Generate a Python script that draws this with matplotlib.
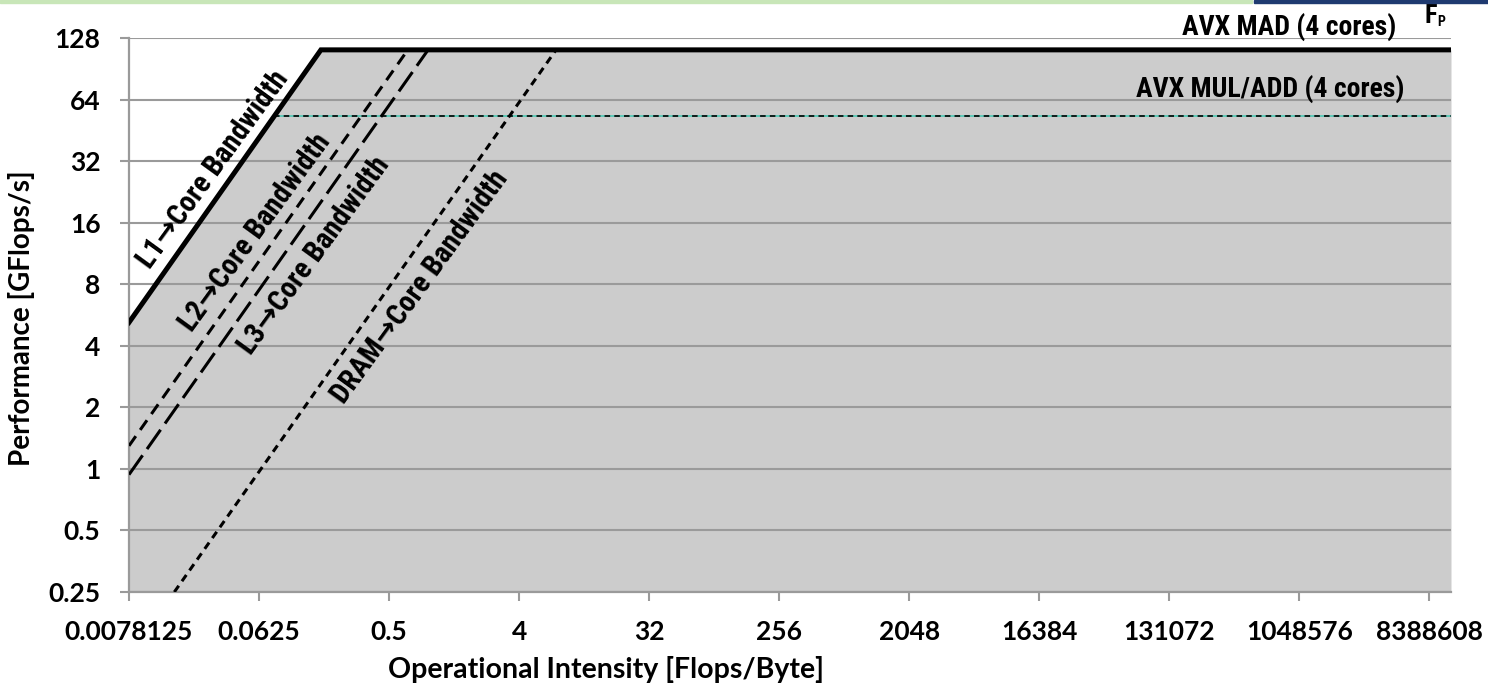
import matplotlib
matplotlib.use('Agg')
import matplotlib.pyplot as plt
from matplotlib.patches import Rectangle
from matplotlib import font_manager as fm

# ---------------- data ----------------
x_ticks = [2.0**-7, 2.0**-4, 0.5, 4, 32, 256, 2048, 16384, 131072, 1048576, 8388608]
x_tick_labels = ['0.0078125', '0.0625', '0.5', '4', '32', '256', '2048',
                 '16384', '131072', '1048576', '8388608']
y_ticks = [0.25, 0.5, 1, 2, 4, 8, 16, 32, 64, 128]
y_tick_labels = ['0.25', '0.5', '1', '2', '4', '8', '16', '32', '64', '128']

peak_mad = 112.0       # AVX MAD (4 cores), GFlops/s
peak_mul_add = 53.0    # AVX MUL/ADD (4 cores), GFlops/s
bw_l1 = 666.0          # GB/s
bw_l2 = 166.0
bw_l3 = 120.0
bw_dram = 15.5

x_min, x_max = 2.0**-7, 2.0**23.5
y_min, y_max = 0.25, 128.0

label_l1 = 'L1\u2192Core Bandwidth'
label_l2 = 'L2\u2192Core Bandwidth'
label_l3 = 'L3\u2192Core Bandwidth'
label_dram = 'DRAM\u2192Core Bandwidth'
label_mad = 'AVX MAD (4 cores)'
label_muladd = 'AVX MUL/ADD (4 cores)'


# ---------------- pick a condensed bold font if one exists ----------------
def pick_narrow():
    entries = fm.fontManager.ttflist
    names = {f.name for f in entries}
    for p in ['Liberation Sans Narrow', 'Roboto Condensed', 'Noto Sans Condensed',
              'Open Sans Condensed', 'DejaVu Sans Condensed', 'Arial Narrow']:
        if p in names:
            return p, 'normal'
    cands = [f for f in entries if f.stretch == 'condensed'
             or 'Narrow' in f.name or 'Condensed' in f.name]
    for pref in ['Noto Sans', 'Roboto', 'Open Sans', 'DejaVu Sans', 'Liberation Sans']:
        for f in cands:
            if f.name.startswith(pref):
                return f.name, 'condensed'
    if cands:
        return cands[0].name, 'condensed'
    return 'Roboto', 'normal'


narrow_name, narrow_stretch = pick_narrow()
narrow_font = [narrow_name, 'DejaVu Sans']

# ---------------- style ----------------
plt.rcParams['lines.scale_dashes'] = False
tick_font = ['Lato', 'DejaVu Sans']
grid_col = '#9a9a9a'

fig = plt.figure(figsize=(14.88, 6.92), dpi=100)
ax = fig.add_axes([129 / 1488, 1 - 592 / 692, (1451 - 129) / 1488, (592 - 38) / 692])
ax.set_xscale('log', base=2)
ax.set_yscale('log', base=2)
ax.set_xlim(x_min, x_max)
ax.set_ylim(y_min, y_max)

# fill under roofline
ridge = peak_mad / bw_l1
roof_x = [x_min, ridge, x_max]
roof_y = [bw_l1 * x_min, peak_mad, peak_mad]
ax.fill_between(roof_x, roof_y, y_min, color='#cccccc', linewidth=0, zorder=1)

# gridlines
ax.set_axisbelow('line')
ax.yaxis.grid(True, color=grid_col, linewidth=1.5)
ax.xaxis.grid(False)
ax.minorticks_off()

# lines
ax.plot(roof_x, roof_y, color='black', linewidth=3.6, zorder=5, solid_joinstyle='miter')

x_l2 = [x_min, peak_mad / bw_l2]
ax.plot(x_l2, [bw_l2 * v for v in x_l2], color='black', linewidth=2.2,
        linestyle=(0, (8.5, 5.5)), zorder=4)
x_l3 = [x_min, peak_mad / bw_l3]
ax.plot(x_l3, [bw_l3 * v for v in x_l3], color='black', linewidth=2.2,
        linestyle=(0, (17, 5.5)), zorder=4)
x_dr = [y_min / bw_dram, peak_mad / bw_dram]
ax.plot(x_dr, [bw_dram * v for v in x_dr], color='black', linewidth=2.2,
        linestyle=(0, (5.5, 4)), zorder=4)

x_ma = [peak_mul_add / bw_l1, x_max]
ax.plot(x_ma, [peak_mul_add] * 2, color='#4cc9b5', linewidth=1.2, zorder=3)
ax.plot(x_ma, [peak_mul_add] * 2, color='black', linewidth=1.2,
        linestyle=(0, (4, 3)), zorder=3)

# line labels
ang = 54.0
txt_kw = dict(fontweight='bold', family=narrow_font, stretch=narrow_stretch)


def line_label(text, bw, xv, off):
    ax.annotate(text, xy=(xv, bw * xv), xytext=off, textcoords='offset points',
                rotation=ang, rotation_mode='anchor', ha='center', va='center',
                fontsize=21, zorder=6, **txt_kw)


line_label(label_l1, bw_l1, 2.0**-4.7, (-11, 8))
line_label(label_l2, bw_l2, 2.0**-3.72, (-11.5, 8))
line_label(label_l3, bw_l3, 2.0**-3.2, (14.5, -10.5))
line_label(label_dram, bw_dram, 2.0**-0.76, (15, -10.5))

ax.text(0.959, 1.0199, label_mad, transform=ax.transAxes, ha='right', va='center',
        fontsize=20, **txt_kw)
ax.text(0.965, 0.908, label_muladd, transform=ax.transAxes, ha='right', va='center',
        fontsize=20, **txt_kw)
ax.text(0.985, 1.0397, 'F', transform=ax.transAxes, ha='center', va='center',
        fontsize=19, **txt_kw)
ax.text(0.9925, 1.029, 'P', transform=ax.transAxes, ha='center', va='center',
        fontsize=10, **txt_kw)

# axes
for s in ['top', 'right']:
    ax.spines[s].set_visible(False)
for s in ['left', 'bottom']:
    ax.spines[s].set_color(grid_col)
    ax.spines[s].set_linewidth(1.6)
    ax.spines[s].set_zorder(2)

ax.set_xticks(x_ticks)
ax.set_xticklabels(x_tick_labels)
ax.set_yticks(y_ticks)
ax.set_yticklabels(y_tick_labels)
ax.tick_params(axis='both', direction='out', color=grid_col, width=1.5, length=6.5,
               labelsize=19)
ax.tick_params(axis='x', pad=14)
ax.tick_params(axis='y', pad=14)
for lab in ax.get_xticklabels() + ax.get_yticklabels():
    lab.set_family(tick_font)
    lab.set_fontweight('bold')

ax.set_xlabel('Operational Intensity [Flops/Byte]', fontsize=20.5, fontweight='bold',
              family=tick_font)
ax.set_ylabel('Performance [GFlops/s]', fontsize=20, fontweight='bold', family=tick_font)
ax.xaxis.set_label_coords(0.361, -0.115)
ax.yaxis.set_label_coords((22 - 129) / 1322, 0.495)
ax.xaxis.label.set_va('top')
ax.yaxis.label.set_va('center')

# slide border strips
fig.patches.append(Rectangle((0, 1 - 3 / 692), 1252 / 1488, 3 / 692, transform=fig.transFigure,
                             color='#c8e6b8', zorder=10))
fig.patches.append(Rectangle((1254 / 1488, 1 - 3 / 692), 234 / 1488, 3 / 692,
                             transform=fig.transFigure, color='#1f3a70', zorder=10))

fig.savefig('out.png', dpi=100)
